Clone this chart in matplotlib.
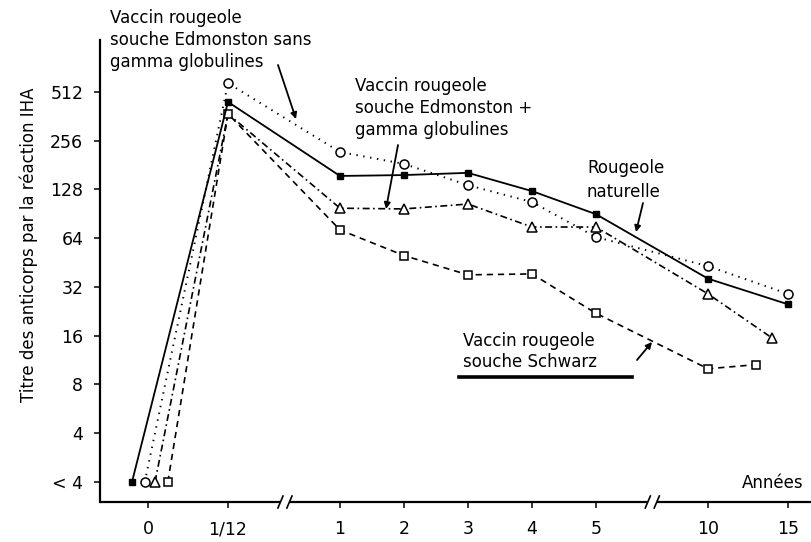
import numpy as np
from matplotlib import pyplot as plt
from matplotlib.lines import Line2D
from matplotlib.ticker import NullLocator
from matplotlib.transforms import blended_transform_factory


# Years on the x axis and the labels printed under them.
tick_years = [0, 1/12, 1, 2, 3, 4, 5, 10, 15]
tick_labels = ["0", "1/12", "1", "2", "3", "4", "5", "10", "15"]

# Titre levels on the y axis ("< 4" is kept as 2).
titre_ticks = [2, 4, 8, 16, 32, 64, 128, 256, 512]
titre_labels = ["< 4", "4", "8", "16", "32", "64", "128", "256", "512"]

# Rougeole naturelle.
nat_years = [0, 1/12, 1, 2, 3, 4, 5, 10, 15]
nat_titre = [2, 444, 155, 157, 162, 125, 90, 36, 25]

# Vaccin rougeole souche Edmonston sans gamma globulines.
edm_years = [0, 1/12, 1, 2, 3, 4, 5, 10, 15]
edm_titre = [2, 580, 218, 184, 136, 107, 65, 43, 29]

# Vaccin rougeole souche Edmonston + gamma globulines.
edg_years = [0, 1/12, 1, 2, 3, 4, 5, 10, 14]
edg_titre = [2, 375, 98, 97, 104, 75, 75, 29, 15.5]

# Vaccin rougeole souche Schwarz.
sch_years = [0, 1/12, 1, 2, 3, 4, 5, 10, 13]
sch_titre = [2, 375, 72, 50, 38, 38.5, 22, 10, 10.6]


# Broken x axis: each tick year gets its own position.
tick_pos = [0, 1.25, 3, 4, 5, 6, 7, 8.75, 10]

def to_pos(years, shift0=0.0):
    p = np.interp(years, tick_years, tick_pos)
    p[0] += shift0   # the starting points are drawn side by side
    return p


W, H = 811, 542

def px(x, y):
    # figure fraction from pixel coords measured from the top left
    return (x / W, 1 - y / H)


plt.rcParams['font.family'] = ['DejaVu Sans']
plt.rcParams['lines.scale_dashes'] = False

fig = plt.figure(figsize=(W / 100, H / 100), dpi=100)
ax = fig.add_axes([100 / W, 1 - 502 / H, (W - 100) / W, 462 / H])

ax.plot(to_pos(nat_years, -0.25), nat_titre, color='black', lw=1.3,
        linestyle='-', marker='s', ms=5, mfc='black', mec='black', zorder=4)
ax.plot(to_pos(edm_years, -0.05), edm_titre, color='black', lw=1.4,
        linestyle=(0, (1, 4)), marker='o', ms=6.5, mfc='white', mec='black',
        mew=1.1, zorder=3)
ax.plot(to_pos(edg_years, 0.11), edg_titre, color='black', lw=1.2,
        linestyle=(0, (5, 2.5, 1.2, 2.5)), marker='^', ms=6.5, mfc='white',
        mec='black', mew=1.1, markevery=[0, 2, 3, 4, 5, 6, 7, 8], zorder=3)
ax.plot(to_pos(sch_years, 0.31), sch_titre, color='black', lw=1.2,
        linestyle=(0, (4.5, 3.5)), marker='s', ms=5.5, mfc='white',
        mec='black', mew=1.1, zorder=3)

ax.set_yscale('log', base=2)
ax.set_ylim(1.504, 1071)
ax.set_yticks(titre_ticks, titre_labels)
ax.yaxis.set_minor_locator(NullLocator())
ax.set_xlim(-0.75, 10.36)
ax.set_xticks(tick_pos, tick_labels)

for side in ['top', 'right', 'bottom']:
    ax.spines[side].set_visible(False)
ax.spines['left'].set_linewidth(1.6)
ax.tick_params(direction='out', length=4, width=1.1, labelsize=12.5,
               colors='black')
ax.tick_params(axis='y', pad=8)
ax.tick_params(axis='x', pad=9)

# x axis line with the two breaks
tr = blended_transform_factory(ax.transData, ax.transAxes)
pieces = [(-0.75, 2.08), (2.22, 7.82), (7.96, 10.36)]
for a, b in pieces:
    ax.plot([a, b], [0, 0], color='black', lw=1.6, transform=tr,
            clip_on=False, solid_capstyle='butt')
for xb in [2.08, 2.22, 7.82, 7.96]:
    ax.plot([xb - 0.05, xb + 0.03], [-0.013, 0.013], color='black', lw=1.2,
            transform=tr, clip_on=False)

fig.text(*px(29, 245), "Titre des anticorps par la réaction IHA",
         rotation=90, ha='center', va='center', fontsize=12)
fig.text(*px(803, 488), "Années", ha='right', va='baseline', fontsize=12)

# labels with their pointers; y is the baseline of the last line
notes = [
    ("Vaccin rougeole\nsouche Edmonston sans\ngamma globulines",
     (110, 67), 1.3, (278, 65), (296, 119)),
    ("Vaccin rougeole\nsouche Edmonston +\ngamma globulines",
     (355, 135), 1.27, (398, 145), (386, 209)),
    ("Rougeole\nnaturelle", (587, 197), 1.4, (643, 203), (636, 232)),
    ("Vaccin rougeole\nsouche Schwarz", (463, 367), 1.2, (637, 360), (652, 342)),
]
for txt, (tx, ty), ls, start, tip in notes:
    fig.text(*px(tx, ty), txt, ha='left', va='baseline', fontsize=12,
             linespacing=ls)
    ax.annotate("", xy=px(*tip), xycoords='figure fraction',
                xytext=px(*start), textcoords='figure fraction',
                arrowprops=dict(arrowstyle='-|>', color='black', lw=1.3,
                                mutation_scale=9, shrinkA=0, shrinkB=0))

# underline below the Schwarz label
x0, y0 = px(459, 377)
x1, _ = px(632, 377)
fig.add_artist(Line2D([x0, x1], [y0, y0], color='black', lw=2.6,
                      transform=fig.transFigure))

fig.savefig("out.png", dpi=100)
